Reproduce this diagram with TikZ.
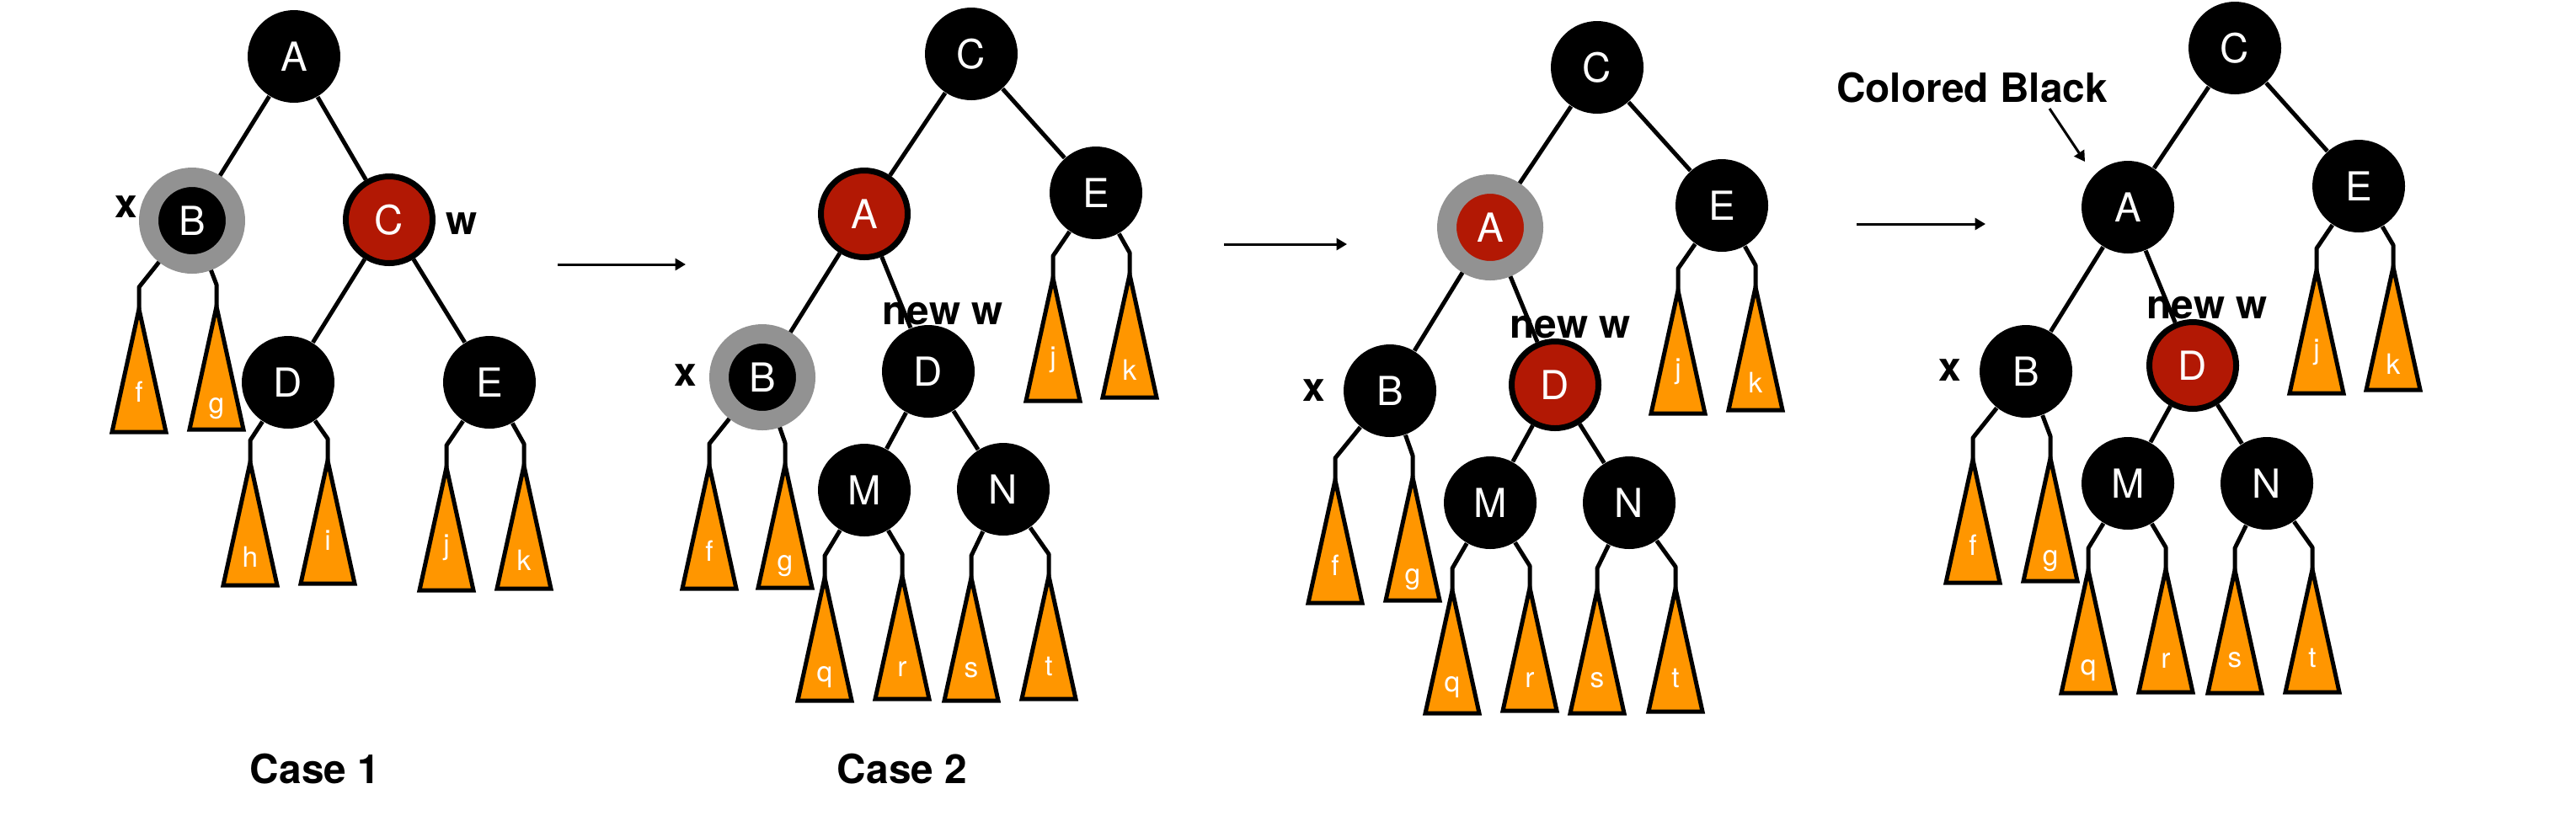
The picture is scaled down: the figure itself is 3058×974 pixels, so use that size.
\documentclass[tikz,border=0pt]{standalone}
\usepackage{fontspec}
\setmainfont{TeX Gyre Heros}
\usetikzlibrary{arrows.meta}
\definecolor{rbred}{RGB}{178,24,4}
\definecolor{ringgray}{RGB}{146,146,146}
\definecolor{leaforange}{RGB}{255,150,0}

\begin{document}
\begin{tikzpicture}[line join=bevel,x=0.1mm,y=-0.1mm,
    blacknode/.style={circle,fill=black,text=white,minimum size=11mm,inner sep=0pt,font=\fontsize{13.5}{15}\selectfont},
    rednode/.style={blacknode,fill=rbred,draw=black,line width=0.7mm,minimum size=10.3mm},
    ringnode/.style={blacknode,draw=ringgray,line width=2.3mm,minimum size=10.3mm},
    treeline/.style={line width=0.5mm},
    subtree/.style={fill=leaforange,draw=black,line width=0.5mm,line join=miter},
    leaf/.style={text=white,inner sep=0pt,font=\fontsize{9.5}{11}\selectfont},
    tag/.style={inner sep=0pt,font=\fontsize{13.6}{16}\selectfont\bfseries},
    flow/.style={line width=0.3mm,-{Triangle[length=1.25mm,width=1.4mm]}}]
            \useasboundingbox (0,0) rectangle (3058,974);

            \node[blacknode] (A1) at (349,67) {A};
            \node[ringnode] (B1) at (228,262) {B};
            \node[rednode] (C1) at (462,261) {C};
            \node[blacknode] (D1) at (342,454) {D};
            \node[blacknode] (E1) at (581,454) {E};
            \node[tag] (x1) at (150,246) {x};
            \node[tag] (w1) at (548,266) {w};
            \node[tag] (case1) at (374,913) {Case 1};

            \node[blacknode] (C2) at (1153,64) {C};
            \node[rednode] (A2) at (1026,254) {A};
            \node[blacknode] (E2) at (1301,229) {E};
            \node[ringnode] (B2) at (905,448) {B};
            \node[blacknode] (D2) at (1102,441) {D};
            \node[blacknode] (M2) at (1026,582) {M};
            \node[blacknode] (N2) at (1191,581) {N};
            \node[tag] (x2) at (814,446) {x};
            \node[tag] (w2) at (1119,373) {new w};
            \node[tag] (case2) at (1071,913) {Case 2};

            \node[blacknode] (C3) at (1896,80) {C};
            \node[ringnode,fill=rbred] (A3) at (1769,270) {A};
            \node[blacknode] (E3) at (2044,244) {E};
            \node[blacknode] (B3) at (1650,464) {B};
            \node[rednode] (D3) at (1846,457) {D};
            \node[blacknode] (M3) at (1769,597) {M};
            \node[blacknode] (N3) at (1934,597) {N};
            \node[tag] (x3) at (1560,464) {x};
            \node[tag] (w3) at (1864,389) {new w};

            \node[blacknode] (C4) at (2653,57) {C};
            \node[blacknode] (A4) at (2526,246) {A};
            \node[blacknode] (E4) at (2800,221) {E};
            \node[blacknode] (B4) at (2405,441) {B};
            \node[rednode] (D4) at (2603,434) {D};
            \node[blacknode] (M4) at (2526,574) {M};
            \node[blacknode] (N4) at (2691,574) {N};
            \node[tag] (x4) at (2315,440) {x};
            \node[tag] (w4) at (2620,366) {new w};
            \node[tag] (cb) at (2341,104) {Colored Black};

            \foreach \n/\x/\y/\l/\ly in {f1/165/341/f/465,g1/257/338/g/485,h1/297/523/h/661,i1/389/521/i/642,j1/530/529/j/650,k1/622/527/k/665,
                f2/842/527/f/654,g2/932/526/g/672,j2/1250/304/j/427,k2/1341/300/k/439,q2/979/660/q/804,r2/1071/658/r/794,s2/1153/660/s/796,t2/1245/658/t/791,
                f3/1585/544/f/671,g3/1677/541/g/688,j3/1992/319/j/441,k3/2084/315/k/454,q3/1724/675/q/816,r3/1816/672/r/807,s3/1896/675/s/808,t3/1989/673/t/805,
                f4/2342/520/f/647,g4/2434/518/g/666,j4/2750/295/j/418,k4/2841/291/k/432,q4/2479/651/q/796,r4/2571/650/r/784,s4/2653/651/s/784,t4/2745/650/t/781}{
                \coordinate (\n) at (\x,\y);
                \draw[subtree] (\x,\y+26) -- ++(-32,146) -- ++(64,0) -- cycle;
                \node[leaf] (\n l) at (\x,\ly) {\l};
            }

            \foreach \p/\c in {A1/B1,A1/C1,C1/D1,C1/E1,
                C2/A2,C2/E2,A2/B2,A2/D2,D2/M2,D2/N2,
                C3/A3,C3/E3,A3/B3,A3/D3,D3/M3,D3/N3,
                C4/A4,C4/E4,A4/B4,A4/D4,D4/M4,D4/N4}
                \draw[treeline] (\p) -- (\c);

            \foreach \p/\c in {B1/f1,B1/g1,D1/h1,D1/i1,E1/j1,E1/k1,
                B2/f2,B2/g2,E2/j2,E2/k2,M2/q2,M2/r2,N2/s2,N2/t2,
                B3/f3,B3/g3,E3/j3,E3/k3,M3/q3,M3/r3,N3/s3,N3/t3,
                B4/f4,B4/g4,E4/j4,E4/k4,M4/q4,M4/r4,N4/s4,N4/t4}
                \draw[treeline] (\p) -- (\c) -- ++(0,26);

            \coordinate (s1) at (662,314);
            \coordinate (e1) at (814,314);
            \coordinate (s2) at (1453,290);
            \coordinate (e2) at (1599,290);
            \coordinate (s3) at (2204,266);
            \coordinate (e3) at (2357,266);
            \coordinate (cbs) at (2433,129);
            \coordinate (cbe) at (2475,192);
            \draw[flow] (s1) -- (e1);
            \draw[flow] (s2) -- (e2);
            \draw[flow] (s3) -- (e3);
            \draw[flow] (cbs) -- (cbe);
        \end{tikzpicture}
\end{document}
